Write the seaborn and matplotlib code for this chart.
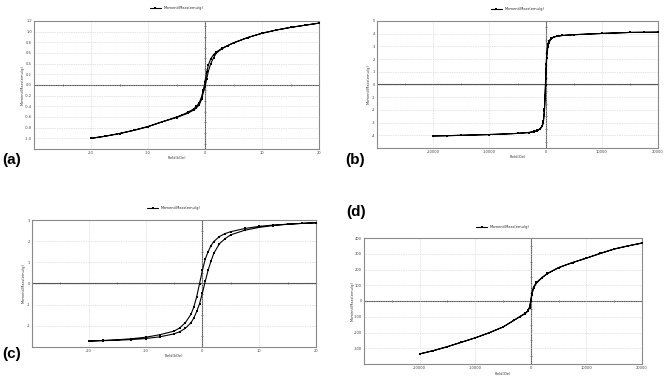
import numpy as np
import pandas as pd
import matplotlib
matplotlib.use("Agg")
import matplotlib.pyplot as plt
import seaborn as sns

sns.set_theme(style="white")
plt.rcParams['font.family'] = ['DejaVu Sans']

# ---------------- data ----------------
# (a) field in kOe
a_field_down = [20, 17.5, 15, 12.5, 10, 7.5, 5, 4, 3, 2, 1.5, 1, 0.6, 0.3, 0, -0.3, -0.6, -1, -1.5, -2, -3, -4, -5, -7.5, -10, -12.5, -15, -17.5, -20]
a_moment_down = [1.16, 1.12, 1.08, 1.03, 0.97, 0.89, 0.79, 0.74, 0.69, 0.62, 0.57, 0.49, 0.38, 0.24, 0.06, -0.10, -0.22, -0.33, -0.40, -0.45, -0.51, -0.56, -0.60, -0.69, -0.78, -0.85, -0.91, -0.96, -1.00]
a_field_up = [-20, -17.5, -15, -12.5, -10, -7.5, -5, -4, -3, -2, -1.5, -1, -0.6, -0.3, 0, 0.3, 0.6, 1, 1.5, 2, 3, 4, 5, 7.5, 10, 12.5, 15, 17.5, 20]
a_moment_up = [-1.00, -0.96, -0.91, -0.85, -0.78, -0.69, -0.61, -0.57, -0.53, -0.47, -0.43, -0.37, -0.27, -0.14, -0.04, 0.12, 0.26, 0.40, 0.51, 0.60, 0.68, 0.74, 0.79, 0.89, 0.97, 1.03, 1.08, 1.12, 1.16]

# (b) field in Oe
b_field_down = [20000, 17500, 15000, 12500, 10000, 7500, 5000, 3000, 2000, 1500, 1000, 600, 400, 200, 100, 0, -100, -200, -400, -600, -1000, -1500, -2000, -3000, -5000, -7500, -10000, -12500, -15000, -17500, -20000]
b_moment_down = [4.12, 4.11, 4.10, 4.06, 4.02, 3.97, 3.92, 3.86, 3.80, 3.75, 3.64, 3.45, 3.20, 2.50, 1.60, 0.40, -0.80, -1.90, -2.90, -3.25, -3.50, -3.62, -3.70, -3.78, -3.85, -3.90, -3.94, -3.97, -4.00, -4.03, -4.05]
b_field_up = [-20000, -17500, -15000, -12500, -10000, -7500, -5000, -3000, -2000, -1500, -1000, -600, -400, -200, -100, 0, 100, 200, 400, 600, 1000, 1500, 2000, 3000, 5000, 7500, 10000, 12500, 15000, 17500, 20000]
b_moment_up = [-4.05, -4.03, -4.00, -3.97, -3.94, -3.90, -3.85, -3.78, -3.71, -3.64, -3.52, -3.30, -3.00, -2.10, -1.10, 0.00, 1.20, 2.10, 2.95, 3.30, 3.60, 3.73, 3.80, 3.86, 3.92, 3.97, 4.02, 4.06, 4.10, 4.11, 4.12]

# (c) field in kOe
c_field_down = [20, 17.5, 15, 12.5, 10, 7.5, 5, 4, 3, 2, 1.5, 1, 0.5, 0, -0.5, -1, -1.5, -2, -3, -4, -5, -7.5, -10, -12.5, -15, -17.5, -20]
c_moment_down = [2.87, 2.84, 2.80, 2.76, 2.70, 2.60, 2.45, 2.36, 2.22, 1.98, 1.78, 1.50, 1.15, 0.62, 0.00, -0.62, -1.10, -1.45, -1.85, -2.10, -2.25, -2.42, -2.54, -2.61, -2.66, -2.69, -2.72]
c_field_up = [-20, -17.5, -15, -12.5, -10, -7.5, -5, -4, -3, -2, -1.5, -1, -0.5, 0, 0.5, 1, 1.5, 2, 3, 4, 5, 7.5, 10, 12.5, 15, 17.5, 20]
c_moment_up = [-2.72, -2.70, -2.68, -2.65, -2.60, -2.52, -2.38, -2.28, -2.12, -1.85, -1.62, -1.32, -0.95, -0.45, 0.10, 0.62, 1.05, 1.42, 1.88, 2.12, 2.30, 2.52, 2.65, 2.74, 2.80, 2.84, 2.87]

# (d) field in Oe
d_field_down = [20000, 17500, 15000, 12500, 10000, 7500, 5000, 3000, 2000, 1000, 500, 200, 0, -200, -500, -1000, -2000, -3000, -5000, -7500, -10000, -12500, -15000, -17500, -20000]
d_moment_down = [368, 350, 330, 302, 272, 244, 212, 175, 149, 118, 90, 50, 5, -35, -60, -78, -100, -122, -165, -202, -234, -262, -290, -315, -336]
d_field_up = [-20000, -17500, -15000, -12500, -10000, -7500, -5000, -3000, -2000, -1000, -500, -200, 0, 200, 500, 1000, 2000, 3000, 5000, 7500, 10000, 12500, 15000, 17500, 20000]
d_moment_up = [-336, -315, -290, -262, -234, -202, -165, -122, -100, -80, -64, -42, -3, 40, 82, 112, 147, 174, 212, 244, 272, 302, 330, 350, 368]

a_xticks = [-20, -10, 0, 10, 20]
a_yticks = [-1.0, -0.8, -0.6, -0.4, -0.2, 0.0, 0.2, 0.4, 0.6, 0.8, 1.0, 1.2]
a_ylabels = ["-1.0", "-0.8", "-0.6", "-0.4", "-0.2", "0.0", "0.2", "0.4", "0.6", "0.8", "1.0", "1.2"]
b_xticks = [-20000, -10000, 0, 10000, 20000]
b_yticks = [-4, -3, -2, -1, 0, 1, 2, 3, 4, 5]
c_xticks = [-20, -10, 0, 10, 20]
c_yticks = [-2, -1, 0, 1, 2, 3]
d_xticks = [-20000, -10000, 0, 10000, 20000]
d_yticks = [-300, -200, -100, 0, 100, 200, 300, 400]

series_name = "Moment/Mass(emu/g)"
ylabel = "Moment/Mass(emu/g)"

W, H = 669, 380
fig = plt.figure(figsize=(W / 100, H / 100), dpi=100)
fig.patch.set_facecolor("white")


def add_ax(l, t, r, b):
    return fig.add_axes([l / W, 1 - b / H, (r - l) / W, (b - t) / H])


def panel(box, fdown, mdown, fup, mup, xlim, ylim, xticks, yticks, ylabels,
          xminor, yminor, xlabel, leg_y, xlab_y, letter, letter_xy, ylab_off):
    ax = add_ax(*box)
    df = pd.DataFrame({"Field": list(fdown) + list(fup),
                       "Moment": list(mdown) + list(mup)})
    sns.lineplot(data=df, x="Field", y="Moment", sort=False, estimator=None,
                 ax=ax, color="black", lw=0.8, marker="s", markersize=1.6,
                 markeredgewidth=0, label=series_name, zorder=5)
    ax.set_xlim(*xlim)
    ax.set_ylim(*ylim)
    ax.set_xticks(xticks)
    ax.set_xticklabels([str(v) for v in xticks])
    ax.set_yticks(yticks)
    ax.set_yticklabels(ylabels if ylabels is not None else [str(v) for v in yticks])
    ax.tick_params(axis="both", length=0, labelsize=2.6, pad=1.5, colors="#444444")
    ax.grid(True, color="#c8c8c8", ls=(0, (1, 1.5)), lw=0.5)
    for s in ax.spines.values():
        s.set_color("#8a8a8a")
        s.set_linewidth(0.8)
    ax.set_xlabel("")
    ax.set_ylabel("")
    # zero lines with minor ticks
    x0 = (0 - xlim[0]) / (xlim[1] - xlim[0])
    y0 = (0 - ylim[0]) / (ylim[1] - ylim[0])
    sx = ax.secondary_xaxis(y0)
    sx.set_xticks(xminor)
    sx.tick_params(length=2, width=0.5, direction="inout", labelbottom=False,
                   labeltop=False, color="#555555")
    for s in sx.spines.values():
        s.set_color("#555555")
        s.set_linewidth(0.8)
    sy = ax.secondary_yaxis(x0)
    sy.set_yticks(yminor)
    sy.tick_params(length=2, width=0.5, direction="inout", labelleft=False,
                   labelright=False, color="#555555")
    for s in sy.spines.values():
        s.set_color("#555555")
        s.set_linewidth(0.8)
    # legend above
    cx = (box[0] + box[2]) / 2 / W
    leg = ax.legend(loc="center", frameon=False, fontsize=2.6, handlelength=3,
                    markerscale=1.2)
    leg.set_bbox_to_anchor((cx, 1 - leg_y / H), transform=fig.transFigure)
    fig.text(cx, 1 - xlab_y / H, xlabel, ha="center", va="center", fontsize=2.6, color="#333333")
    fig.text((box[0] - ylab_off) / W, 1 - ((box[1] + box[3]) / 2) / H, ylabel, rotation=90,
             ha="center", va="center", fontsize=2.6, color="#333333")
    fig.text(letter_xy[0] / W, 1 - letter_xy[1] / H, letter, ha="left", va="center",
             fontsize=11, fontweight="bold", color="black",
             family=["Liberation Sans", "DejaVu Sans"])
    return ax


panel((34, 21, 319, 149), a_field_down, a_moment_down, a_field_up, a_moment_up,
      (-30, 20), (-1.2, 1.2), a_xticks, a_yticks, a_ylabels,
      [-25, -15, -5, 5, 15], list(np.arange(-1.1, 1.2, 0.2)), "Field(kOe)", 8, 158, "(a)", (2, 160), 11)
panel((377, 21, 658, 148), b_field_down, b_moment_down, b_field_up, b_moment_up,
      (-30000, 20000), (-5, 5), b_xticks, b_yticks, None,
      [-25000, -15000, -5000, 5000, 15000], list(np.arange(-4.5, 5, 1.0)), "Field(Oe)", 9, 157, "(b)", (345, 160), 8)
panel((32, 220, 316, 347), c_field_down, c_moment_down, c_field_up, c_moment_up,
      (-30, 20), (-3, 3), c_xticks, c_yticks, None,
      [-25, -15, -5, 5, 15], list(np.arange(-2.5, 3, 1.0)), "Field(kOe)", 208, 356, "(c)", (2, 354), 8)
panel((364, 238, 642, 364), d_field_down, d_moment_down, d_field_up, d_moment_up,
      (-30000, 20000), (-400, 400), d_xticks, d_yticks, None,
      [-25000, -15000, -5000, 5000, 15000], list(np.arange(-350, 400, 100)), "Field(Oe)", 227, 374, "(d)", (346, 212), 11)

fig.savefig("out.png", dpi=100, facecolor="white")
